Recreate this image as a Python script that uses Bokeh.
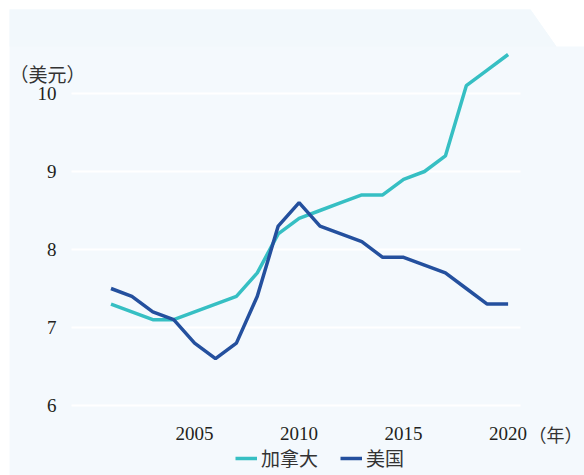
from bokeh.plotting import figure
from bokeh.models import Range1d, Label, Legend, LegendItem, PolyAnnotation
from bokeh.core.properties import value
from bokeh.embed import file_html
from bokeh.resources import INLINE

# Annual values (US dollars), 2001-2020
years = list(range(2001, 2021))
canada = [7.3, 7.2, 7.1, 7.1, 7.2, 7.3, 7.4, 7.7, 8.2, 8.4,
          8.5, 8.6, 8.7, 8.7, 8.9, 9.0, 9.2, 10.1, 10.3, 10.5]
usa = [7.5, 7.4, 7.2, 7.1, 6.8, 6.6, 6.8, 7.4, 8.3, 8.6,
       8.3, 8.2, 8.1, 7.9, 7.9, 7.8, 7.7, 7.5, 7.3, 7.3]
series_names = ["加拿大", "美国"]
y_ticks = [6, 7, 8, 9, 10]
x_ticks = [2005, 2010, 2015, 2020]
y_unit = "（美元）"
x_unit = "（年）"

TEAL = "#36bfc3"
NAVY = "#24509e"
PANEL = "#f4f9fd"
PANEL_TOP = "#f2f8fc"
INK = "#231f20"
CJK_INK = "#333333"
NUM_FONT = "Liberation Serif"
CJK_FONT = "Noto Sans CJK SC"

W, H = 584, 475
# the plot frame covers the whole canvas; scale factors set the layout
PX_PER_YEAR = 20.9
PX_PER_UNIT = 78.0
X_LEFT = 2001 - 110.5 / PX_PER_YEAR          # year at the canvas' left edge
Y_TOP = 10 + 93.0 / PX_PER_UNIT              # value at the canvas' top edge


def xd(px):
    """canvas x (from left) -> data x"""
    return X_LEFT + px / PX_PER_YEAR


def yd(py):
    """canvas y (from top) -> data y"""
    return Y_TOP - py / PX_PER_UNIT


p = figure(width=W, height=H, output_backend="svg", toolbar_location=None,
           x_range=Range1d(xd(0), xd(W)), y_range=Range1d(yd(H), yd(0)),
           x_axis_location=None, y_axis_location=None,
           min_border=0, min_border_left=0, min_border_right=0,
           min_border_top=0, min_border_bottom=0)
p.border_fill_color = "white"
p.background_fill_color = "white"
p.outline_line_color = None
p.grid.visible = False

# light panel with a clipped top-right corner (screen units, y measured upward)
p.add_layout(PolyAnnotation(xs=[9, 530, 556, W, W, 9],
                            ys=[H - 9, H - 9, H - 46, H - 46, 0, 0],
                            xs_units="screen", ys_units="screen",
                            fill_color=PANEL, fill_alpha=1.0, line_color=None,
                            level="underlay"))
p.add_layout(PolyAnnotation(xs=[9, 530, 556, 9],
                            ys=[H - 9, H - 9, H - 46, H - 46],
                            xs_units="screen", ys_units="screen",
                            fill_color=PANEL_TOP, fill_alpha=1.0, line_color=None,
                            level="underlay"))

# horizontal grid lines at the value ticks
p.segment(x0=xd(71), x1=xd(520), y0=y_ticks, y1=y_ticks,
          line_color="white", line_width=2)

# tick labels
p.text(x=[xd(56)] * len(y_ticks), y=y_ticks, text=[str(t) for t in y_ticks],
       text_font=value(NUM_FONT), text_font_size="19px", text_color=INK,
       text_align="right", text_baseline="middle")
p.text(x=x_ticks, y=[yd(433)] * len(x_ticks), text=[str(t) for t in x_ticks],
       text_font=value(NUM_FONT), text_font_size="19px", text_color=INK,
       text_align="center", text_baseline="middle")

# data lines
r_ca = p.line(years, canada, line_color=TEAL, line_width=3.5)
r_us = p.line(years, usa, line_color=NAVY, line_width=3.5)

# unit labels
p.add_layout(Label(x=xd(9), y=yd(73), text=y_unit,
                   text_font=CJK_FONT, text_font_size="19px",
                   text_color=CJK_INK, text_baseline="middle"))
p.add_layout(Label(x=xd(528), y=yd(433), text=x_unit,
                   text_font=CJK_FONT, text_font_size="18px",
                   text_color=CJK_INK, text_baseline="middle"))

legend = Legend(items=[LegendItem(label=series_names[0], renderers=[r_ca]),
                       LegendItem(label=series_names[1], renderers=[r_us])],
                orientation="horizontal", location=(235, 4),
                label_text_font=CJK_FONT, label_text_font_size="19px",
                label_text_color=CJK_INK, glyph_width=22, glyph_height=20,
                label_standoff=4, spacing=22, padding=0, margin=0,
                border_line_color=None, background_fill_alpha=0)
p.add_layout(legend, "center")

open("out.html", "w").write(file_html(p, INLINE))
